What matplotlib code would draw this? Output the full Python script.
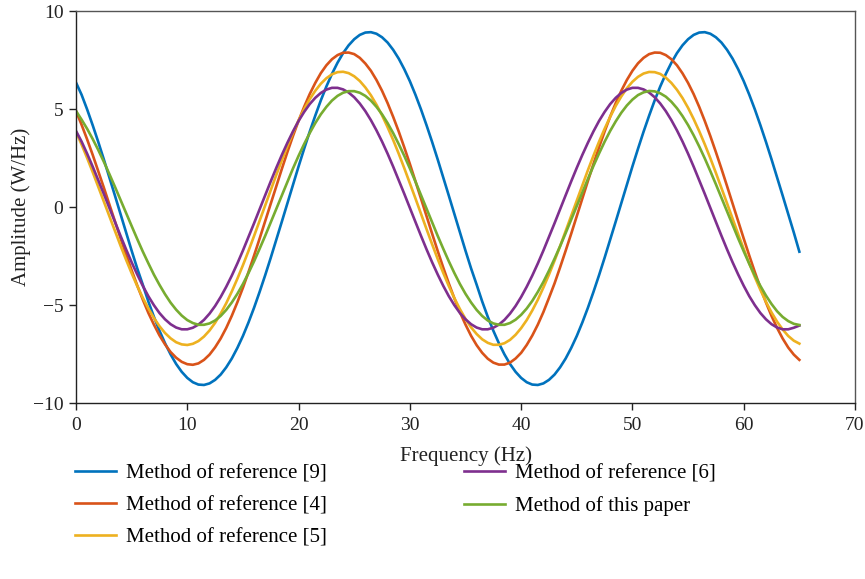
import matplotlib
matplotlib.use("Agg")
import matplotlib.pyplot as plt

freq = [0, 0.5, 1, 1.5, 2, 2.5, 3, 3.5, 4, 4.5,
        5, 5.5, 6, 6.5, 7, 7.5, 8, 8.5, 9, 9.5,
        10, 10.5, 11, 11.5, 12, 12.5, 13, 13.5, 14, 14.5,
        15, 15.5, 16, 16.5, 17, 17.5, 18, 18.5, 19, 19.5,
        20, 20.5, 21, 21.5, 22, 22.5, 23, 23.5, 24, 24.5,
        25, 25.5, 26, 26.5, 27, 27.5, 28, 28.5, 29, 29.5,
        30, 30.5, 31, 31.5, 32, 32.5, 33, 33.5, 34, 34.5,
        35, 35.5, 36, 36.5, 37, 37.5, 38, 38.5, 39, 39.5,
        40, 40.5, 41, 41.5, 42, 42.5, 43, 43.5, 44, 44.5,
        45, 45.5, 46, 46.5, 47, 47.5, 48, 48.5, 49, 49.5,
        50, 50.5, 51, 51.5, 52, 52.5, 53, 53.5, 54, 54.5,
        55, 55.5, 56, 56.5, 57, 57.5, 58, 58.5, 59, 59.5,
        60, 60.5, 61, 61.5, 62, 62.5, 63, 63.5, 64, 64.5,
        65]

ref9 = [6.35, 5.73, 4.98, 4.17, 3.32, 2.43, 1.51, 0.58, -0.36, -1.30,
        -2.23, -3.13, -3.96, -4.82, -5.60, -6.31, -6.95, -7.52, -8.01, -8.41,
        -8.72, -8.94, -9.06, -9.08, -9.00, -8.82, -8.55, -8.18, -7.73, -7.19,
        -6.58, -5.89, -5.14, -4.33, -3.48, -2.59, -1.67, -0.74, 0.20, 1.14,
        2.07, 2.97, 3.84, 4.66, 5.44, 6.15, 6.79, 7.36, 7.85, 8.25,
        8.56, 8.78, 8.90, 8.92, 8.84, 8.66, 8.39, 8.02, 7.57, 7.03,
        6.42, 5.73, 4.98, 4.17, 3.32, 2.43, 1.51, 0.58, -0.36, -1.30,
        -2.23, -3.13, -3.96, -4.82, -5.60, -6.31, -6.95, -7.52, -8.01, -8.41,
        -8.72, -8.94, -9.06, -9.08, -9.00, -8.82, -8.55, -8.18, -7.73, -7.19,
        -6.58, -5.89, -5.14, -4.33, -3.48, -2.59, -1.67, -0.74, 0.20, 1.14,
        2.07, 2.97, 3.84, 4.66, 5.44, 6.15, 6.79, 7.36, 7.85, 8.25,
        8.56, 8.78, 8.90, 8.92, 8.84, 8.66, 8.39, 8.02, 7.57, 7.03,
        6.42, 5.73, 4.98, 4.17, 3.32, 2.43, 1.51, 0.58, -0.36, -1.30,
        -2.28]

ref4 = [4.90, 4.20, 3.45, 2.66, 1.83, 0.99, 0.13, -0.73, -1.59, -2.42,
        -3.23, -4.00, -4.72, -5.40, -6.00, -6.55, -7.01, -7.40, -7.69, -7.90,
        -8.02, -8.05, -7.98, -7.80, -7.53, -7.16, -6.71, -6.17, -5.55, -4.86,
        -4.12, -3.32, -2.48, -1.61, -0.72, 0.18, 1.07, 1.95, 2.81, 3.63,
        4.40, 5.11, 5.76, 6.33, 6.83, 7.23, 7.54, 7.75, 7.87, 7.88,
        7.80, 7.61, 7.32, 6.95, 6.48, 5.93, 5.30, 4.60, 3.85, 3.04,
        2.20, 1.32, 0.43, -0.47, -1.36, -2.24, -3.09, -3.90, -4.66, -5.37,
        -6.00, -6.57, -7.05, -7.44, -7.74, -7.94, -8.04, -8.04, -7.94, -7.73,
        -7.44, -7.04, -6.56, -6.00, -5.36, -4.64, -3.90, -3.08, -2.23, -1.36,
        -0.46, 0.44, 1.33, 2.20, 3.05, 3.85, 4.61, 5.30, 5.93, 6.48,
        6.95, 7.33, 7.61, 7.80, 7.88, 7.87, 7.75, 7.54, 7.23, 6.82,
        6.33, 5.76, 5.11, 4.39, 3.62, 2.80, 1.95, 1.07, 0.17, -0.72,
        -1.61, -2.48, -3.32, -4.12, -4.87, -5.56, -6.17, -6.71, -7.17, -7.53,
        -7.80]

ref5 = [3.84, 3.19, 2.50, 1.78, 1.03, 0.28, -0.48, -1.23, -1.97, -2.69,
        -3.38, -4.03, -4.63, -5.17, -5.66, -6.08, -6.43, -6.70, -6.90, -7.01,
        -7.04, -6.98, -6.84, -6.61, -6.30, -5.91, -5.44, -4.91, -4.31, -3.66,
        -2.97, -2.24, -1.48, -0.70, 0.09, 0.87, 1.64, 2.39, 3.11, 3.79,
        4.42, 4.99, 5.50, 5.93, 6.29, 6.57, 6.77, 6.88, 6.90, 6.83,
        6.67, 6.43, 6.10, 5.70, 5.22, 4.68, 4.07, 3.42, 2.72, 1.98,
        1.21, 0.44, -0.35, -1.13, -1.90, -2.65, -3.36, -4.03, -4.65, -5.21,
        -5.71, -6.14, -6.48, -6.75, -6.93, -7.03, -7.03, -6.95, -6.78, -6.52,
        -6.18, -5.77, -5.28, -4.73, -4.11, -3.45, -2.74, -2.00, -1.23, -0.45,
        0.33, 1.11, 1.88, 2.62, 3.33, 3.99, 4.60, 5.16, 5.64, 6.06,
        6.39, 6.64, 6.81, 6.89, 6.88, 6.79, 6.60, 6.33, 5.98, 5.56,
        5.06, 4.49, 3.87, 3.20, 2.49, 1.74, 0.97, 0.19, -0.60, -1.38,
        -2.14, -2.88, -3.58, -4.23, -4.84, -5.38, -5.85, -6.25, -6.58, -6.82,
        -6.97]

ref6 = [3.88, 3.34, 2.72, 2.06, 1.37, 0.67, -0.05, -0.76, -1.47, -2.16,
        -2.82, -3.44, -4.02, -4.55, -5.01, -5.41, -5.73, -5.98, -6.15, -6.24,
        -6.24, -6.16, -6.00, -5.76, -5.44, -5.05, -4.59, -4.07, -3.50, -2.88,
        -2.22, -1.53, -0.83, -0.11, 0.60, 1.31, 2.00, 2.66, 3.28, 3.86,
        4.39, 4.85, 5.25, 5.57, 5.82, 5.99, 6.08, 6.08, 6.00, 5.84,
        5.60, 5.28, 4.89, 4.43, 3.91, 3.34, 2.72, 2.06, 1.37, 0.67,
        -0.05, -0.76, -1.47, -2.16, -2.82, -3.44, -4.02, -4.55, -5.01, -5.41,
        -5.73, -5.98, -6.15, -6.24, -6.24, -6.16, -6.00, -5.76, -5.44, -5.05,
        -4.59, -4.07, -3.50, -2.88, -2.22, -1.53, -0.83, -0.11, 0.60, 1.31,
        2.00, 2.66, 3.28, 3.86, 4.39, 4.85, 5.25, 5.57, 5.82, 5.99,
        6.08, 6.08, 6.00, 5.84, 5.60, 5.28, 4.89, 4.43, 3.91, 3.34,
        2.72, 2.06, 1.37, 0.67, -0.05, -0.76, -1.47, -2.16, -2.82, -3.44,
        -4.02, -4.55, -5.01, -5.41, -5.73, -5.98, -6.15, -6.24, -6.24, -6.16,
        -6.05]

this_paper = [4.90, 4.46, 3.99, 3.47, 2.91, 2.31, 1.68, 1.03, 0.36, -0.31,
              -0.97, -1.63, -2.27, -2.87, -3.45, -3.97, -4.45, -4.88, -5.24, -5.54,
              -5.77, -5.92, -6.01, -6.01, -5.94, -5.79, -5.56, -5.25, -4.87, -4.43,
              -3.93, -3.37, -2.77, -2.13, -1.47, -0.78, -0.08, 0.61, 1.30, 1.97,
              2.61, 3.21, 3.77, 4.28, 4.73, 5.11, 5.43, 5.67, 5.83, 5.91,
              5.91, 5.83, 5.67, 5.43, 5.11, 4.73, 4.28, 3.77, 3.21, 2.61,
              1.97, 1.30, 0.61, -0.09, -0.78, -1.47, -2.13, -2.77, -3.37, -3.93,
              -4.43, -4.87, -5.25, -5.56, -5.79, -5.94, -6.01, -6.01, -5.92, -5.75,
              -5.50, -5.18, -4.79, -4.33, -3.82, -3.25, -2.64, -2.00, -1.33, -0.64,
              0.06, 0.75, 1.43, 2.10, 2.73, 3.33, 3.88, 4.37, 4.81, 5.18,
              5.48, 5.71, 5.85, 5.92, 5.90, 5.80, 5.63, 5.37, 5.04, 4.64,
              4.18, 3.66, 3.09, 2.48, 1.83, 1.16, 0.47, -0.23, -0.92, -1.60,
              -2.26, -2.90, -3.49, -4.03, -4.52, -4.95, -5.32, -5.61, -5.82, -5.96,
              -6.02]

labels = ["Method of reference [9]", "Method of reference [4]",
          "Method of reference [5]", "Method of reference [6]",
          "Method of this paper"]
colors = ["#0072BD", "#D95319", "#EDB120", "#7E2F8E", "#77AC30"]
series = [ref9, ref4, ref5, ref6, this_paper]

x_ticks = [0, 10, 20, 30, 40, 50, 60, 70]
y_ticks = [-10, -5, 0, 5, 10]

plt.rcParams['font.family'] = ['Liberation Serif', 'DejaVu Serif']
plt.rcParams['axes.unicode_minus'] = True

fig = plt.figure(figsize=(8.65, 5.79), dpi=100)
ax = fig.add_axes([76/865, 1-403/579, (855-76)/865, (403-11)/579])

lines = []
for s, c, lab in zip(series, colors, labels):
    ln, = ax.plot(freq, s, color=c, lw=1.9, label=lab)
    lines.append(ln)

ax.set_xlim(0, 70)
ax.set_ylim(-10, 10)
ax.set_xticks(x_ticks)
ax.set_yticks(y_ticks)
ax.tick_params(axis='both', direction='out', length=5, width=1.0,
               labelsize=14, colors='#222222', top=False, right=False, pad=4)
ax.tick_params(axis='x', pad=5)
for sp in ax.spines.values():
    sp.set_color('#555555')
    sp.set_linewidth(1.0)
ax.spines['left'].set_color('#222222')
ax.spines['bottom'].set_color('#222222')

ax.set_xlabel("Frequency (Hz)", fontsize=15, color='#222222', labelpad=9)
ax.set_ylabel("Amplitude (W/Hz)", fontsize=15, color='#222222', labelpad=1)

leg = fig.legend(lines, labels,
                 loc='upper left', bbox_to_anchor=(75/865, 1-464/579),
                 ncol=2, frameon=False, fontsize=15, handlelength=1.95,
                 handletextpad=0.5, columnspacing=6.6, labelspacing=0.6,
                 borderaxespad=0, borderpad=0)

fig.savefig("out.png", dpi=100)
